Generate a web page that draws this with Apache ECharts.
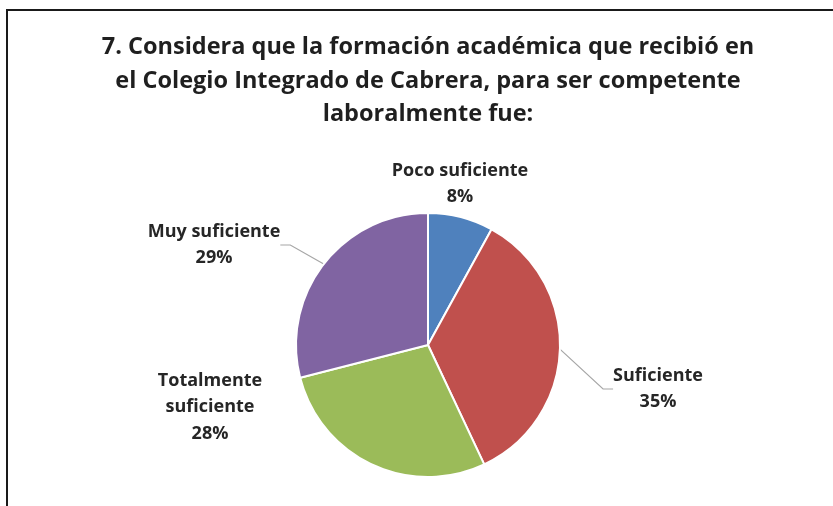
<!DOCTYPE html>
<html>
<head>
	<meta charset="utf-8" />
	<title>Formación académica</title>
	<script src="https://cdn.jsdelivr.net/npm/echarts@6/dist/echarts.min.js"></script>
	<style>
		html, body { margin: 0; padding: 0; background: #fff; }
		#main { width: 833px; height: 506px; }
	</style>
</head>
<body>
	<div id="main"></div>
	<script type="text/javascript">
		// datos
		var categories = ['Poco suficiente', 'Suficiente', 'Totalmente\nsuficiente', 'Muy suficiente'];
		var values = [8, 35, 28, 29];
		var colors = ['#4f81bd', '#c0504d', '#9bbb59', '#8064a2'];
		var showLines = [false, true, false, true];
		// donde va cada etiqueta (px)
		var labelPos = [[460, 184], [658, 389], [210, 407], [214, 245]];

		var titleText = '7. Considera que la formación académica que recibió en\n' +
			'el Colegio Integrado de Cabrera, para ser competente\n' +
			'laboralmente fue:';

		var chart = echarts.init(document.getElementById('main'));

		var pieData = categories.map(function (name, i) {
			return {
				name: name,
				value: values[i],
				itemStyle: { color: colors[i] },
				labelLine: { show: showLines[i] }
			};
		});

		chart.setOption({
			animation: false,
			graphic: [
				{
					type: 'rect',
					shape: { x: 7, y: 10, width: 900, height: 600 },
					style: { fill: 'none', stroke: '#1a1a1a', lineWidth: 2 },
					silent: true
				},
				{
					type: 'text',
					x: 428,
					y: 31,
					style: {
						text: titleText,
						align: 'center',
						font: 'bold 23.5px "Open Sans", sans-serif',
						lineHeight: 33.5,
						fill: '#1f1f1f'
					}
				}
			],
			series: [{
				type: 'pie',
				center: [428, 345],
				radius: 132,
				startAngle: 90,
				clockwise: true,
				data: pieData,
				itemStyle: { borderColor: '#fff', borderWidth: 2 },
				label: {
					position: 'outside',
					formatter: '{b}\n{d}%',
					fontFamily: '"Open Sans", sans-serif',
					fontWeight: 'bold',
					fontSize: 18,
					lineHeight: 26.5,
					color: '#262626',
					align: 'center'
				},
				labelLine: {
					length: 12,
					length2: 10,
					lineStyle: { color: '#a6a6a6', width: 1.2 }
				},
				labelLayout: function (params) {
					var p = labelPos[params.dataIndex];
					return { x: p[0], y: p[1], align: 'center', verticalAlign: 'middle' };
				}
			}]
		});
	</script>
</body>
</html>
